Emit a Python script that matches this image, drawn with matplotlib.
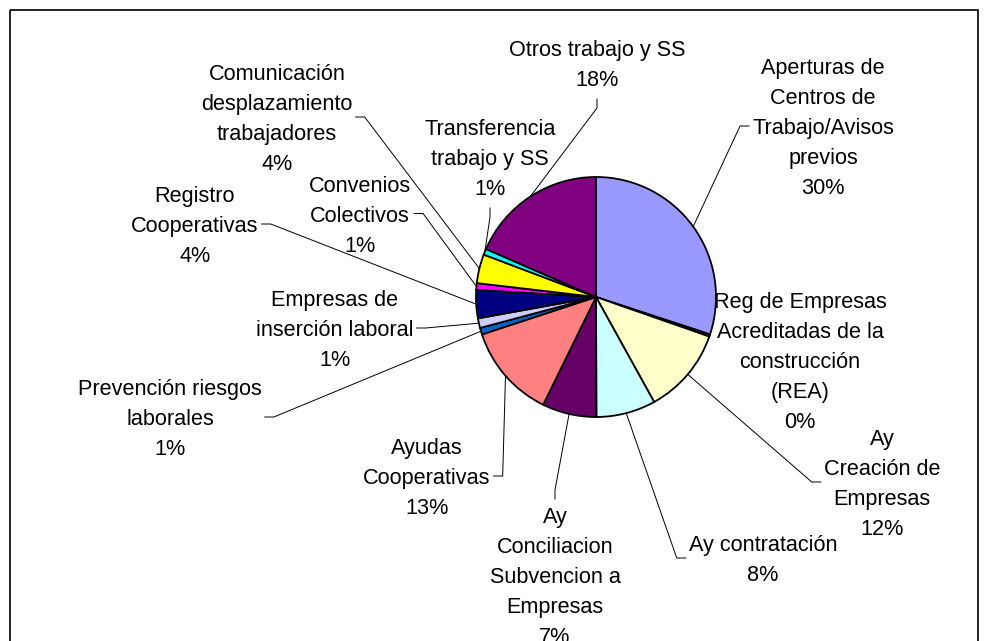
import numpy as np
import matplotlib
matplotlib.use('Agg')
import matplotlib.pyplot as plt
from matplotlib.patches import Rectangle
from matplotlib.transforms import Bbox

plt.rcParams['font.family'] = ['Liberation Sans', 'DejaVu Sans']

# ── Data ──
categories = [
    'Aperturas de\nCentros de\nTrabajo/Avisos\nprevios',
    'Reg de Empresas\nAcreditadas de la\nconstrucción\n(REA)',
    'Ay\nCreación de\nEmpresas',
    'Ay contratación',
    'Ay\nConciliacion\nSubvencion a\nEmpresas',
    'Ayudas\nCooperativas',
    'Prevención riesgos\nlaborales',
    'Empresas de\ninserción laboral',
    'Registro\nCooperativas',
    'Convenios\nColectivos',
    'Comunicación\ndesplazamiento\ntrabajadores',
    'Transferencia\ntrabajo y SS',
    'Otros trabajo y SS',
]
values = [30.05, 0.3, 11.6, 8.0, 7.3, 12.7, 0.9, 1.3, 3.8, 0.9, 3.9, 0.8, 18.45]
colors = ['#9999FF', '#993366', '#FFFFCC', '#CCFFFF', '#660066', '#FF8080',
          '#0066CC', '#CCCCFF', '#000080', '#FF00FF', '#FFFF00', '#00FFFF', '#800080']

# ── Label layout (pixels from top-left) ──
label_pos = [(823, 126), (800, 360), (882, 482), (763, 558), (555, 575),
             (427, 476), (170, 417), (335, 328), (195, 224), (360, 213.5),
             (277, 117), (490, 157), (597, 63)]
label_side = ['left', None, 'left', 'left', 'top', 'right', 'right',
              'right', 'right', 'right', 'right', 'bottom', 'bottom']

W, H = 986, 641
LINE = 30      # line pitch of label text
GAP, TICK, GAPV = 3, 9, 8

fig = plt.figure(figsize=(W / 100, H / 100), dpi=100)
ax = fig.add_axes([0, 0, 1, 1])

# y axis runs downward, so counterclock=True draws clockwise on screen
wedges, _ = ax.pie(values, colors=colors, startangle=-90, counterclock=True,
                   center=(596, 297), radius=120,
                   wedgeprops=dict(edgecolor='black', linewidth=1.3))
ax.set_xlim(0, W)
ax.set_ylim(H, 0)
ax.set_aspect('auto')
ax.axis('off')

# ── Labels ──
total = sum(values)
groups = []
for name, v, (x, y) in zip(categories, values, label_pos):
    lines = name.split('\n') + [f'{v / total * 100:.0f}%']
    n = len(lines)
    grp = []
    for i, line in enumerate(lines):
        ty = y + (i - (n - 1) / 2) * LINE
        grp.append(ax.text(x, ty, line, ha='center', va='center_baseline',
                           fontsize=15.6, color='black'))
    groups.append(grp)

fig.canvas.draw()
renderer = fig.canvas.get_renderer()
inv = ax.transData.inverted()

# ── Leader lines ──
for w, grp, side, (lx, ly) in zip(wedges, groups, label_side, label_pos):
    if side is None:
        continue
    ang = np.deg2rad((w.theta1 + w.theta2) / 2)
    px = w.center[0] + w.r * np.cos(ang)
    py = w.center[1] + w.r * np.sin(ang)
    bb = Bbox.union([t.get_window_extent(renderer) for t in grp]).transformed(inv)
    x0, x1 = sorted([bb.x0, bb.x1])
    y0, y1 = sorted([bb.y0, bb.y1])
    if side == 'left':
        a, b = (x0 - GAP, ly), (x0 - GAP - TICK, ly)
    elif side == 'right':
        a, b = (x1 + GAP, ly), (x1 + GAP + TICK, ly)
    elif side == 'top':
        a, b = (lx, y0 - GAPV), (lx, y0 - GAPV - TICK)
    else:
        a, b = (lx, y1 + GAPV), (lx, y1 + GAPV + TICK)
    ax.plot([px, b[0], a[0]], [py, b[1], a[1]], color='black', lw=0.7)

# chart frame (bottom edge lies below the visible area)
ax.add_patch(Rectangle((9.5, 9.5), 968.5, 700, fill=False, edgecolor='black',
                       lw=1.2, clip_on=False))

fig.savefig('out.png', dpi=100, facecolor='white')
